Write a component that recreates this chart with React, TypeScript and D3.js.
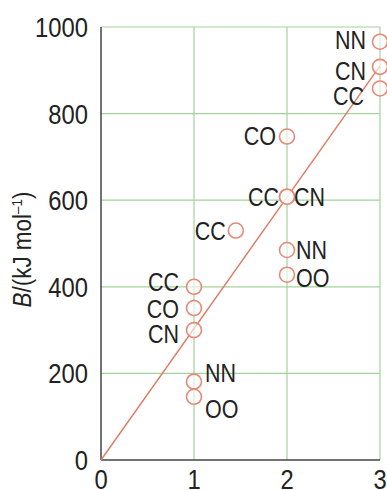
import * as d3 from "d3";

// bond order vs bond enthalpy
const bondOrders = [1, 1, 1, 1, 1, 1.45, 2, 2, 2, 2, 2, 3, 3, 3];
const enthalpies = [400, 351, 300, 181, 146, 530, 747, 608, 608, 485, 428, 966, 908, 858];
const bondLabels = ["CC", "CO", "CN", "NN", "OO", "CC", "CO", "CC", "CN", "NN", "OO", "NN", "CN", "CC"];
const xTicks = [0, 1, 2, 3];
const yTicks = [0, 200, 400, 600, 800, 1000];
const fitLine = [
  { order: 0, b: 0 },
  { order: 3, b: 910 },
];

// label placement: [side, gap from centre, vertical nudge]
const labelPlace: [string, number, number][] = [
  ["l", 15, -5], ["l", 15, 1], ["l", 15, 4], ["r", 11, -9], ["r", 11, 12],
  ["l", 10, 0], ["l", 11, -1], ["l", 8, 0], ["r", 7, 0], ["r", 9, 0], ["r", 9, 3],
  ["l", 14, -2], ["l", 14, 4], ["l", 16, 8],
];

const W = 387;
const H = 490;
const margin = { top: 27, right: 7, bottom: 30, left: 101 };
const font = "'Liberation Sans', Arial, sans-serif";

export default function App() {
  const x = d3.scaleLinear().domain([0, 3]).range([margin.left, W - margin.right]);
  const y = d3.scaleLinear().domain([0, 1000]).range([H - margin.bottom, margin.top]);
  const line = d3
    .line<{ order: number; b: number }>()
    .x((d) => x(d.order))
    .y((d) => y(d.b));

  return (
    <svg
      width={W}
      height={H}
      style={{ position: "absolute", left: 0, top: 0, background: "#fff" }}
    >
      {/* grid */}
      {yTicks.slice(1).map((t) => (
        <line key={"gy" + t} x1={x(0)} x2={x(3)} y1={y(t)} y2={y(t)} stroke="#a3d29c" strokeWidth={1.2} />
      ))}
      {xTicks.slice(1).map((t) => (
        <line key={"gx" + t} x1={x(t)} x2={x(t)} y1={y(0)} y2={y(1000)} stroke="#a3d29c" strokeWidth={1.2} />
      ))}
      {/* axes */}
      <line x1={x(0)} x2={x(0)} y1={y(0)} y2={y(1000)} stroke="#444" strokeWidth={1.5} />
      <line x1={x(0)} x2={x(3)} y1={y(0)} y2={y(0)} stroke="#444" strokeWidth={1.5} />

      {/* tick labels, condensed */}
      {yTicks.map((t) => (
        <text
          key={"ty" + t}
          transform={`translate(${x(0) - 13},${y(t)}) scale(0.85,1)`}
          dy="0.36em"
          textAnchor="end"
          fontFamily={font}
          fontSize={28}
          fill="#222"
        >
          {t}
        </text>
      ))}
      {xTicks.map((t) => (
        <text
          key={"tx" + t}
          transform={`translate(${x(t)},${H - 1}) scale(0.85,1)`}
          textAnchor="middle"
          fontFamily={font}
          fontSize={28}
          fill="#222"
        >
          {t}
        </text>
      ))}

      {/* axis title */}
      <text
        transform={`translate(31,${(y(0) + y(1000)) / 2 + 6}) rotate(-90) scale(0.9,1)`}
        textAnchor="middle"
        fontFamily={font}
        fontSize={25}
        fill="#222"
      >
        <tspan fontStyle="italic">B</tspan>/(kJ mol
        <tspan dy={-9} fontSize={15}>–1</tspan>
        <tspan dy={9}>)</tspan>
      </text>

      {/* fit line */}
      <path d={line(fitLine) || undefined} fill="none" stroke="#e07a62" strokeWidth={1.4} />

      {/* points */}
      {bondOrders.map((o, i) => (
        <circle
          key={"p" + i}
          cx={x(o)}
          cy={y(enthalpies[i])}
          r={7.5}
          fill="#fff"
          fillOpacity={0.6}
          stroke="#e58a78"
          strokeWidth={1.6}
        />
      ))}
      {bondOrders.map((o, i) => {
        const [side, gap, nudge] = labelPlace[i];
        const lx = x(o) + (side === "l" ? -gap : gap);
        return (
          <text
            key={"l" + i}
            transform={`translate(${lx},${y(enthalpies[i]) + nudge}) scale(0.86,1)`}
            dy="0.36em"
            textAnchor={side === "l" ? "end" : "start"}
            fontFamily={font}
            fontSize={25}
            fill="#222"
          >
            {bondLabels[i]}
          </text>
        );
      })}
    </svg>
  );
}
